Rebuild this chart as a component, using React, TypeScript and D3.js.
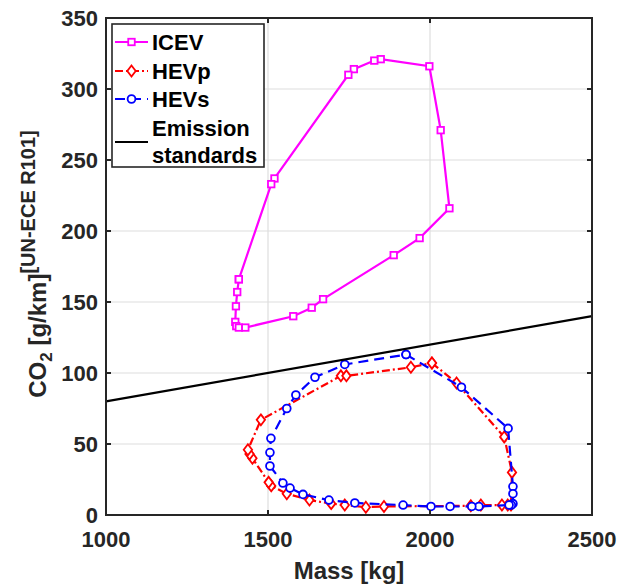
import React from "react";
import * as d3 from "d3";

const icevMass = [1410, 1405, 1401, 1399, 1402, 1410, 1430, 1578, 1635, 1670, 1888, 1968, 2060, 2033, 1998, 1848, 1828, 1765, 1748, 1520, 1510, 1410];
const icevCO2 = [166, 157, 147, 136, 133, 132, 132, 140, 146, 152, 183, 195, 216, 271, 316, 321, 320, 314, 310, 237, 233, 166];

const hevpMass = [2006, 2082, 2229, 2253, 2250, 2240, 2222, 2157, 2126, 1858, 1802, 1737, 1695, 1628, 1558, 1510, 1502, 1452, 1443, 1438, 1478, 1725, 1742, 1941, 2006];
const hevpCO2 = [107, 93, 55, 30, 7, 7, 7, 7, 6.5, 6, 5.5, 7, 8, 10.5, 15, 20.5, 23, 40, 43, 46, 67, 98, 98, 104, 107];

const hevsMass = [1926, 2097, 2241, 2256, 2256, 2256, 2251, 2244, 2151, 2129, 2062, 2003, 1917, 1768, 1688, 1608, 1568, 1546, 1506, 1506, 1509, 1558, 1586, 1645, 1737, 1926];
const hevsCO2 = [113, 90, 61, 20, 15, 8, 7, 7, 6, 6, 6, 6, 7, 8.5, 10.5, 14.5, 19, 22.5, 34.5, 44, 54, 75, 84.5, 97, 106, 113];

const stdMass = [1000, 2500];
const stdCO2 = [80, 140];

const xTicks = [1000, 1500, 2000, 2500];
const yTicks = [0, 50, 100, 150, 200, 250, 300, 350];

const W = 631, H = 584;
const L = 106, R = 592, T = 18, B = 515;
const FONT = "'Liberation Sans', Arial, sans-serif";
const AXC = "#262626";

export default function App() {
  const x = d3.scaleLinear().domain([1000, 2500]).range([L, R]);
  const y = d3.scaleLinear().domain([0, 350]).range([B, T]);
  const line = d3.line<[number, number]>().x(d => x(d[0])).y(d => y(d[1]));
  const pts = (m: number[], c: number[]) => m.map((v, i) => [v, c[i]] as [number, number]);

  const icev = pts(icevMass, icevCO2);
  const hevp = pts(hevpMass, hevpCO2);
  const hevs = pts(hevsMass, hevsCO2);
  const std = pts(stdMass, stdCO2);

  const sq = 6.5;
  const square = (cx: number, cy: number, k: string) => (
    <rect key={k} x={cx - sq / 2} y={cy - sq / 2} width={sq} height={sq} fill="white" stroke="#ff00ff" strokeWidth={1.8} />
  );
  const diamond = (cx: number, cy: number, k: string) => (
    <path key={k} d={`M${cx},${cy - 5.5}L${cx + 4.2},${cy}L${cx},${cy + 5.5}L${cx - 4.2},${cy}Z`} fill="white" stroke="#ff0000" strokeWidth={1.8} />
  );
  const circle = (cx: number, cy: number, k: string) => (
    <circle key={k} cx={cx} cy={cy} r={3.9} fill="white" stroke="#0000ff" strokeWidth={1.8} />
  );

  const tickLen = 5;

  return (
    <svg width={W} height={H} style={{ position: "absolute", left: 0, top: 0, background: "white" }} fontFamily={FONT}>
      <rect x={0} y={0} width={W} height={H} fill="white" />
      {xTicks.map(t => (
        <line key={"gx" + t} x1={x(t)} x2={x(t)} y1={T} y2={B} stroke="#dedede" strokeWidth={1.2} />
      ))}
      {yTicks.map(t => (
        <line key={"gy" + t} x1={L} x2={R} y1={y(t)} y2={y(t)} stroke="#dedede" strokeWidth={1.2} />
      ))}

      <path d={line(icev) || ""} fill="none" stroke="#ff00ff" strokeWidth={2.2} />
      {icev.map((d, i) => square(x(d[0]), y(d[1]), "s" + i))}

      <path d={line(hevp) || ""} fill="none" stroke="#ff0000" strokeWidth={2.2} strokeDasharray="8,3,2,3" />
      {hevp.map((d, i) => diamond(x(d[0]), y(d[1]), "d" + i))}

      <path d={line(hevs) || ""} fill="none" stroke="#0000ff" strokeWidth={2.2} strokeDasharray="10,6" />
      {hevs.map((d, i) => circle(x(d[0]), y(d[1]), "c" + i))}

      <path d={line(std) || ""} fill="none" stroke="#000000" strokeWidth={2.2} />

      <rect x={L} y={T} width={R - L} height={B - T} fill="none" stroke={AXC} strokeWidth={2} />
      {xTicks.map(t => (
        <g key={"tx" + t}>
          <line x1={x(t)} x2={x(t)} y1={B} y2={B - tickLen} stroke={AXC} strokeWidth={2} />
          <line x1={x(t)} x2={x(t)} y1={T} y2={T + tickLen} stroke={AXC} strokeWidth={2} />
          <text x={x(t)} y={547} textAnchor="middle" fontSize={22} fontWeight="bold" fill={AXC}>{t}</text>
        </g>
      ))}
      {yTicks.map(t => (
        <g key={"ty" + t}>
          <line x1={L} x2={L + tickLen} y1={y(t)} y2={y(t)} stroke={AXC} strokeWidth={2} />
          <line x1={R} x2={R - tickLen} y1={y(t)} y2={y(t)} stroke={AXC} strokeWidth={2} />
          <text x={98} y={y(t)} dy="0.36em" textAnchor="end" fontSize={22} fontWeight="bold" fill={AXC}>{t}</text>
        </g>
      ))}

      <text x={(L + R) / 2} y={579} textAnchor="middle" fontSize={24} fontWeight="bold" fill={AXC}>Mass [kg]</text>
      <text transform={`translate(46,${264}) rotate(-90)`} textAnchor="middle" fontSize={24} fontWeight="bold" fill={AXC}>
        <tspan>CO</tspan>
        <tspan fontSize={17} dy={6}>2</tspan>
        <tspan dy={-6}> [g/km]</tspan>
        <tspan fontSize={20} dy={-11}>[UN-ECE R101]</tspan>
      </text>

      <rect x={112} y={24} width={152} height={143} fill="white" stroke={AXC} strokeWidth={1.6} />
      <line x1={115} x2={148} y1={42} y2={42} stroke="#ff00ff" strokeWidth={2.2} />
      {square(131.5, 42, "ls")}
      <text x={152} y={42} dy="0.36em" fontSize={22} fontWeight="bold" fill="#000">ICEV</text>

      <line x1={115} x2={148} y1={71} y2={71} stroke="#ff0000" strokeWidth={2.2} strokeDasharray="8,3,2,3" />
      {diamond(131.5, 71, "ld")}
      <text x={152} y={71} dy="0.36em" fontSize={22} fontWeight="bold" fill="#000">HEVp</text>

      <line x1={115} x2={148} y1={99} y2={99} stroke="#0000ff" strokeWidth={2.2} strokeDasharray="10,6" />
      {circle(131.5, 99, "lc")}
      <text x={152} y={99} dy="0.36em" fontSize={22} fontWeight="bold" fill="#000">HEVs</text>

      <line x1={115} x2={148} y1={142} y2={142} stroke="#000" strokeWidth={2.2} />
      <text x={152} y={128} dy="0.36em" fontSize={22} fontWeight="bold" fill="#000">Emission</text>
      <text x={152} y={155} dy="0.36em" fontSize={22} fontWeight="bold" fill="#000">standards</text>
    </svg>
  );
}
